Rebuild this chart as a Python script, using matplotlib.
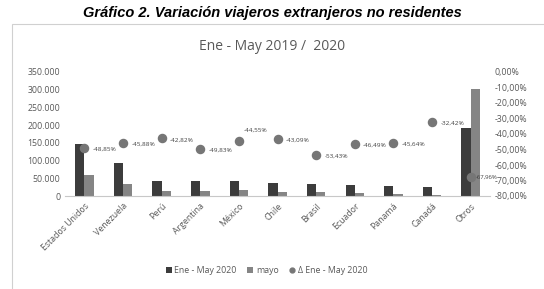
import matplotlib.pyplot as plt
from matplotlib.patches import Rectangle
import numpy as np

plt.rcParams['font.family'] = ['Open Sans', 'DejaVu Sans']

paises = ["Estados Unidos", "Venezuela", "Perú", "Argentina", "México", "Chile",
          "Brasil", "Ecuador", "Panamá", "Canadá", "Otros"]
ene_may_2020 = [148000, 93000, 42000, 41000, 41000, 36000, 34000, 31000, 29000, 25000, 192000]
mayo = [59000, 34000, 14000, 13000, 16000, 10000, 11000, 8000, 7000, 4000, 302000]
variacion = [-48.85, -45.88, -42.82, -49.83, -44.55, -43.09, -53.43, -46.49, -45.64, -32.42, -67.96]
etiquetas = ["-48,85%", "-45,88%", "-42,82%", "-49,83%", "-44,55%", "-43,09%",
             "-53,43%", "-46,49%", "-45,64%", "-32,42%", "-67,96%"]
yticks = [0, 50000, 100000, 150000, 200000, 250000, 300000, 350000]
ytick_labels = ["0", "50.000", "100.000", "150.000", "200.000", "250.000", "300.000", "350.000"]
pct_ticks = [0, -10, -20, -30, -40, -50, -60, -70, -80]
pct_labels = ["0,00%", "-10,00%", "-20,00%", "-30,00%", "-40,00%", "-50,00%",
              "-60,00%", "-70,00%", "-80,00%"]

txt = "#595959"
fig = plt.figure(figsize=(5.44, 2.89), dpi=100)
fig.patch.set_facecolor("white")

# marco del grafico
fig.patches.append(Rectangle((12 / 544, -0.01), 0.99, (289 - 24) / 289 + 0.01,
                             transform=fig.transFigure, fill=False,
                             edgecolor="#d0d0d0", linewidth=0.8))

fig.text(0.5, 0.955, "Gráfico 2. Variación viajeros extranjeros no residentes",
         ha="center", va="center", fontsize=10.5, fontweight="bold", style="italic",
         family=["Liberation Sans", "DejaVu Sans"])
fig.text(0.5, 0.84, "Ene - May 2019 /  2020", ha="center", va="center",
         fontsize=10, color=txt)

ax = fig.add_axes([65 / 544, 1 - 196 / 289, 425 / 544, 124 / 289])
x = np.arange(len(paises))
w = 0.24
ax.bar(x - w / 2, ene_may_2020, w, color="#3c3c3c", label="Ene - May 2020")
ax.bar(x + w / 2, mayo, w, color="#858585", label="mayo")
ax.set_xlim(-0.5, len(paises) - 0.5)
ax.set_ylim(0, 350000)
ax.set_yticks(yticks)
ax.set_yticklabels(ytick_labels)
ax.set_xticks(x)
ax.set_xticklabels(paises, rotation=45, ha="right", rotation_mode="anchor")
for s in ["top", "right", "left"]:
    ax.spines[s].set_visible(False)
ax.spines["bottom"].set_color("#c8c8c8")
ax.tick_params(axis="both", length=0, labelsize=6.3, colors=txt)
ax.tick_params(axis="x", pad=4)

ax2 = ax.twinx()
ax2.scatter(x, variacion, s=34, color="#767676", zorder=5, label="Δ Ene - May 2020")
ax2.set_ylim(-80, 0)
ax2.set_yticks(pct_ticks)
ax2.set_yticklabels(pct_labels)
ax2.tick_params(axis="y", length=0, labelsize=6.3, colors=txt, pad=3)
for s in ["top", "right", "left", "bottom"]:
    ax2.spines[s].set_visible(False)

for i, (v, lab) in enumerate(zip(variacion, etiquetas)):
    if paises[i] == "México":
        ax2.annotate(lab, (i, v), xytext=(12, 8), textcoords="offset points",
                     ha="center", va="center", fontsize=4.6, color="#404040")
    elif paises[i] == "Otros":
        ax2.annotate(lab, (i, v), xytext=(4, 0), textcoords="offset points",
                     ha="left", va="center", fontsize=4.3, color="#404040")
    else:
        ax2.annotate(lab, (i, v), xytext=(6, -1), textcoords="offset points",
                     ha="left", va="center", fontsize=4.6, color="#404040")

h1, l1 = ax.get_legend_handles_labels()
h2, l2 = ax2.get_legend_handles_labels()
fig.legend(h1 + h2, l1 + l2, loc="center", bbox_to_anchor=(0.49, 0.065), ncol=3,
           frameon=False, fontsize=6.3, labelcolor=txt, handlelength=0.7,
           handletextpad=0.3, columnspacing=1.2, markerscale=0.6)

fig.savefig("out.png", dpi=100)
